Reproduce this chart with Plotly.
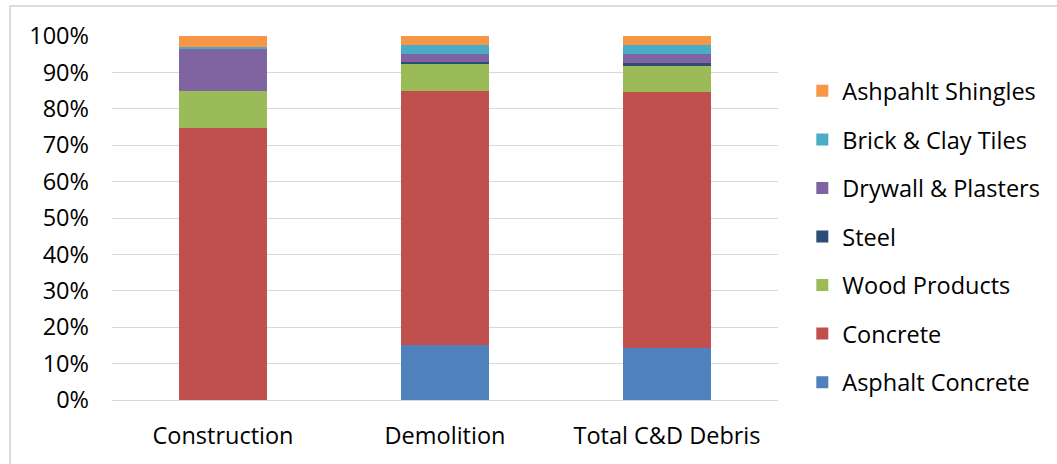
import plotly.graph_objects as go

categories = ["Construction", "Demolition", "Total C&D Debris"]
asphalt_concrete = [0.0, 15.0, 14.2]
concrete = [74.8, 70.0, 70.3]
wood_products = [10.1, 7.2, 7.3]
steel = [0.0, 0.7, 0.8]
drywall_plasters = [11.4, 2.2, 2.5]
brick_clay_tiles = [0.8, 2.3, 2.3]
ashpahlt_shingles = [2.9, 2.6, 2.6]

series = [
    ("Asphalt Concrete", asphalt_concrete, "#4F81BD"),
    ("Concrete", concrete, "#C0504D"),
    ("Wood Products", wood_products, "#9BBB59"),
    ("Steel", steel, "#2C4D75"),
    ("Drywall & Plasters", drywall_plasters, "#8064A2"),
    ("Brick & Clay Tiles", brick_clay_tiles, "#4BACC6"),
    ("Ashpahlt Shingles", ashpahlt_shingles, "#F79646"),
]

FONT = "Open Sans"
FS = 23.5

fig = go.Figure()
for i, (name, vals, color) in enumerate(series):
    fig.add_trace(go.Bar(
        x=categories, y=vals, name=name, legendgroup=name,
        legendrank=1000 - i,
        marker=dict(color=color, line=dict(width=0)),
        hoverinfo="name+y",
    ))

L, R, T, B = 112, 279, 36, 64
W, H = 1057, 464
pw, ph = W - L - R, H - T - B

fig.update_layout(
    width=W, height=H,
    margin=dict(l=L, r=R, t=T, b=B, pad=0, autoexpand=False),
    barmode="stack", bargap=0.6,
    paper_bgcolor="white", plot_bgcolor="white",
    font=dict(family=FONT, size=FS, color="#000000"),
    showlegend=True,
    legend=dict(
        traceorder="grouped", tracegroupgap=15,
        x=1.0365, xanchor="left", y=0.449, yanchor="middle",
        font=dict(family=FONT, size=FS, color="#000000"),
        bgcolor="rgba(0,0,0,0)", itemclick=False,
    ),
    xaxis=dict(
        showgrid=False, showline=False, zeroline=False, ticks="",
        tickfont=dict(family=FONT, size=FS, color="#000000"),
        ticklabelstandoff=19,
    ),
    yaxis=dict(
        range=[0, 100], dtick=10, ticksuffix="%",
        showgrid=True, gridcolor="#D9D9D9", gridwidth=1.3,
        zeroline=True, zerolinecolor="#D9D9D9", zerolinewidth=1.3,
        showline=False, ticks="",
        tickfont=dict(family=FONT, size=FS, color="#000000"),
        ticklabelstandoff=22,
    ),
    shapes=[dict(
        type="rect", xref="paper", yref="paper", layer="below",
        x0=(10 - L) / pw, x1=(W + 10 - L) / pw,
        y0=(H - B - (H + 10)) / ph, y1=(H - B - 6) / ph,
        line=dict(color="#D0D0D0", width=1.5), fillcolor="rgba(0,0,0,0)",
    )],
)

fig.write_html(
    "out.html",
    config={"displayModeBar": False},
    post_script="document.body.style.margin='0px';"
                "document.documentElement.style.overflow='hidden';",
)
